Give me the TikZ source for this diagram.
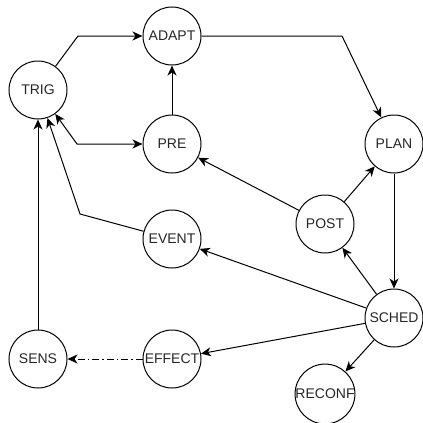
\documentclass[tikz,border=0pt]{standalone}
\usepackage{fontspec}
\setmainfont{Liberation Sans}
\usetikzlibrary{arrows.meta}
\begin{document}
\begin{tikzpicture}[x=1pt,y=-1pt,
  st/.style={circle,draw,line width=1pt,minimum size=58pt,inner sep=0pt,font=\fontsize{14}{16}\selectfont,text=black!85},
  ar/.style={line width=1pt,-{Stealth[length=10pt,width=9pt,inset=3pt]}},
  dar/.style={line width=1pt,{Stealth[length=10pt,width=9pt,inset=3pt]}-{Stealth[length=10pt,width=9pt,inset=3pt]}},
  dd/.style={ar,dash pattern=on 7pt off 3pt on 1.5pt off 3pt}]
\useasboundingbox (0,0) rectangle (423,423);
\node[st] (trig) at (38,90) {TRIG};
\node[st] (adapt) at (172,36) {ADAPT};
\node[st] (pre) at (172,144) {PRE};
\node[st] (plan) at (394,144) {PLAN};
\node[st] (post) at (325,224) {POST};
\node[st] (event) at (172,239) {EVENT};
\node[st] (sched) at (394,318) {SCHED};
\node[st] (effect) at (172,359) {EFFECT};
\node[st] (sens) at (38,359) {SENS};
\node[st] (reconf) at (325,394) {RECONF};
\coordinate (b1) at (78,36);
\coordinate (b2) at (342,36);
\coordinate (b3) at (77,144);
\coordinate (b4) at (80,214);
\coordinate (s1) at (366,308);
\draw[ar] (trig) -- (b1) -- (adapt);
\draw[ar] (adapt) -- (b2) -- (plan);
\draw[ar] (pre) -- (adapt);
\draw[dar] (trig) -- (b3) -- (pre);
\draw[ar] (post) -- (pre);
\draw[ar] (post) -- (plan);
\draw[ar] (plan) -- (sched);
\draw[ar] (sched) -- (post);
\draw[ar] (s1) -- (event);
\draw[ar] (sched) -- (effect);
\draw[ar] (sched) -- (reconf);
\draw[ar] (event) -- (b4) -- (trig);
\draw[ar] (sens) -- (trig);
\draw[dd] (effect) -- (sens);
\end{tikzpicture}
\end{document}
